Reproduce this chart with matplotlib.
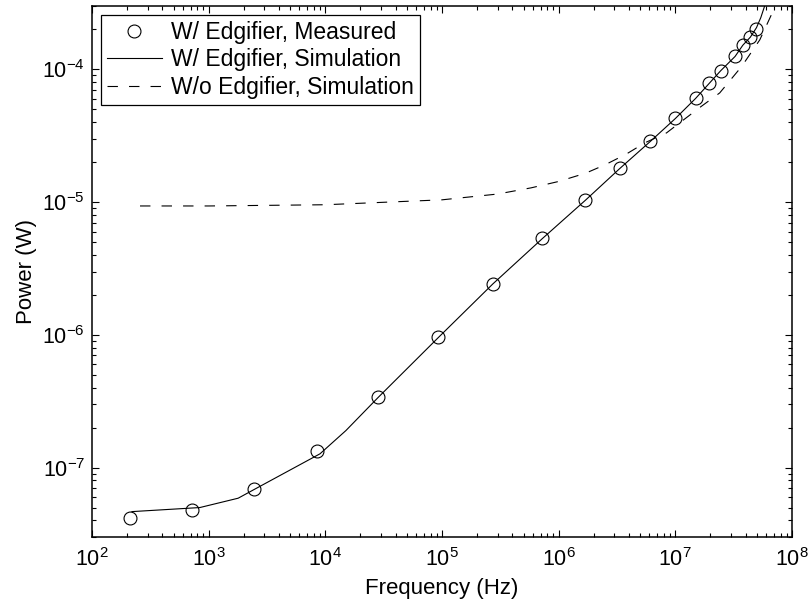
import numpy as np
import matplotlib
matplotlib.use('Agg')
import matplotlib.pyplot as plt
from matplotlib.ticker import LogLocator, NullFormatter, LogFormatterMathtext

plt.rcParams['font.family'] = ['Liberation Sans', 'DejaVu Sans']
plt.rcParams['mathtext.fontset'] = 'custom'
plt.rcParams['mathtext.rm'] = 'Liberation Sans'
plt.rcParams['mathtext.it'] = 'Liberation Sans:italic'
plt.rcParams['lines.scale_dashes'] = False

# measured points, with edgifier
freq_meas = [212, 714, 2460, 8410, 28400, 91600, 273000, 723000, 1.69e6, 3.34e6,
             6.12e6, 1.0e7, 1.49e7, 1.96e7, 2.45e7, 3.25e7, 3.79e7, 4.40e7, 4.96e7]
power_meas = [4.16e-8, 4.77e-8, 6.88e-8, 1.34e-7, 3.43e-7, 9.55e-7, 2.42e-6, 5.32e-6,
              1.04e-5, 1.80e-5, 2.88e-5, 4.27e-5, 6.04e-5, 7.88e-5, 9.78e-5, 1.25e-4,
              1.52e-4, 1.74e-4, 2.03e-4]

# simulation, with edgifier
freq_sim = [220, 840, 1790, 2500, 9000, 15000, 28400, 92000, 273000, 723000, 1.69e6,
            3.34e6, 6.12e6, 1.0e7, 1.49e7, 1.96e7, 2.45e7, 3.25e7, 3.79e7, 4.4e7,
            4.96e7, 5.4e7, 5.9e7]
power_sim = [4.66e-8, 5.0e-8, 5.88e-8, 6.9e-8, 1.27e-7, 1.9e-7, 3.38e-7, 9.45e-7,
             2.42e-6, 5.3e-6, 1.03e-5, 1.79e-5, 2.87e-5, 4.26e-5, 6.03e-5, 7.87e-5,
             9.77e-5, 1.25e-4, 1.52e-4, 1.75e-4, 2.06e-4, 2.45e-4, 3.1e-4]

# simulation, without edgifier
freq_noedg = [258, 1e3, 1e4, 1e5, 3e5, 5.8e5, 1e6, 1.7e6, 2.5e6, 3.8e6, 5.5e6, 8.4e6,
              1.6e7, 2.4e7, 3.7e7, 5.3e7, 6.9e7, 7.5e7]
power_noedg = [9.35e-6, 9.35e-6, 9.55e-6, 1.04e-5, 1.15e-5, 1.28e-5, 1.43e-5, 1.65e-5,
               1.91e-5, 2.3e-5, 2.8e-5, 3.32e-5, 5.12e-5, 6.64e-5, 1.05e-4, 1.67e-4,
               2.76e-4, 3.3e-4]

x_ticks = [1e2, 1e3, 1e4, 1e5, 1e6, 1e7, 1e8]
y_ticks = [1e-7, 1e-6, 1e-5, 1e-4]

fig = plt.figure(figsize=(8.1, 6.05), dpi=100)
ax = fig.add_axes([92/810, 68/605, 700/810, 531/605])

ax.loglog(freq_meas, power_meas, 'o', mfc='none', mec='k', ms=9.3, mew=0.8,
          label='W/ Edgifier, Measured')
ax.loglog(freq_sim, power_sim, '-', color='k', lw=0.8, label='W/ Edgifier, Simulation')
ax.loglog(freq_noedg, power_noedg, color='k', lw=0.8, dashes=(7.5, 8),
          label='W/o Edgifier, Simulation')

ax.set_xlim(1e2, 1e8)
ax.set_ylim(3e-8, 3e-4)
ax.set_xticks(x_ticks)
ax.set_yticks(y_ticks)
ax.xaxis.set_major_formatter(LogFormatterMathtext())
ax.yaxis.set_major_formatter(LogFormatterMathtext())
ax.xaxis.set_minor_locator(LogLocator(base=10, subs=np.arange(2, 10), numticks=100))
ax.yaxis.set_minor_locator(LogLocator(base=10, subs=np.arange(2, 10), numticks=100))
ax.xaxis.set_minor_formatter(NullFormatter())
ax.yaxis.set_minor_formatter(NullFormatter())

ax.tick_params(which='both', direction='in', top=True, right=True, labelsize=15.5, width=0.8)
ax.tick_params(which='major', length=5)
ax.tick_params(axis='x', which='major', pad=8)
ax.tick_params(axis='y', which='major', pad=5)
ax.tick_params(which='minor', length=2.8)
for s in ax.spines.values():
    s.set_linewidth(1.1)

ax.set_xlabel('Frequency (Hz)', fontsize=16, labelpad=5)
ax.set_ylabel('Power (W)', fontsize=16, labelpad=4)

leg = ax.legend(loc='upper left', fontsize=16.5, frameon=True, fancybox=False,
                edgecolor='k', framealpha=1, borderaxespad=0.4, borderpad=0.25,
                handlelength=2.4, handletextpad=0.4, labelspacing=0.2)
leg.get_frame().set_linewidth(0.9)

fig.savefig('out.png', dpi=100)
